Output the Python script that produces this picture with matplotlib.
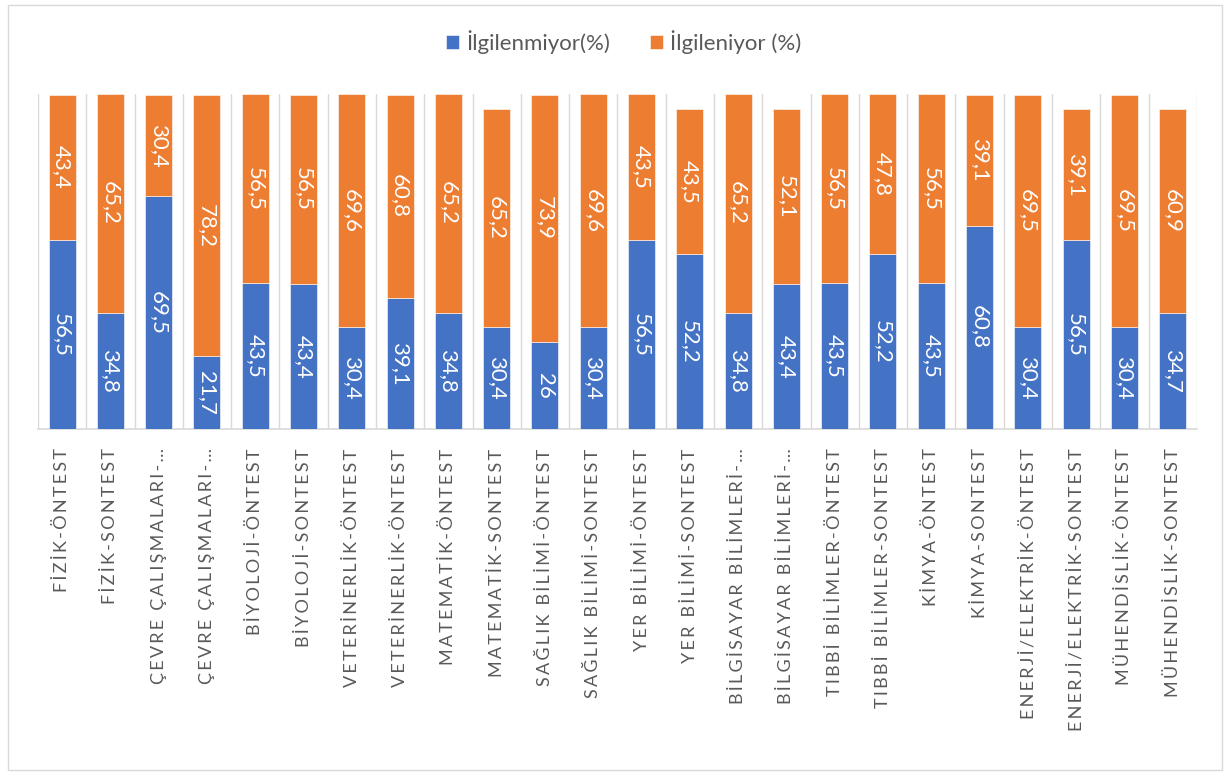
import matplotlib
matplotlib.use("Agg")
import matplotlib.pyplot as plt
from matplotlib.patches import Rectangle
import numpy as np

plt.rcParams['font.family'] = ['Lato', 'DejaVu Sans']

categories = [
    "FİZİK-ÖNTEST", "FİZİK-SONTEST",
    "ÇEVRE ÇALIŞMALARI-…", "ÇEVRE ÇALIŞMALARI-…",
    "BİYOLOJİ-ÖNTEST", "BİYOLOJİ-SONTEST",
    "VETERİNERLİK-ÖNTEST", "VETERİNERLİK-ÖNTEST",
    "MATEMATİK-ÖNTEST", "MATEMATİK-SONTEST",
    "SAĞLIK BİLİMİ-ÖNTEST", "SAĞLIK BİLİMİ-SONTEST",
    "YER BİLİMİ-ÖNTEST", "YER BİLİMİ-SONTEST",
    "BİLGİSAYAR BİLİMLERİ-…", "BİLGİSAYAR BİLİMLERİ-…",
    "TIBBİ BİLİMLER-ÖNTEST", "TIBBİ BİLİMLER-SONTEST",
    "KİMYA-ÖNTEST", "KİMYA-SONTEST",
    "ENERJİ/ELEKTRİK-ÖNTEST", "ENERJİ/ELEKTRİK-SONTEST",
    "MÜHENDİSLİK-ÖNTEST", "MÜHENDİSLİK-SONTEST",
]
ilgilenmiyor = [56.5, 34.8, 69.5, 21.7, 43.5, 43.4, 30.4, 39.1, 34.8, 30.4, 26, 30.4,
                56.5, 52.2, 34.8, 43.4, 43.5, 52.2, 43.5, 60.8, 30.4, 56.5, 30.4, 34.7]
ilgileniyor = [43.4, 65.2, 30.4, 78.2, 56.5, 56.5, 69.6, 60.8, 65.2, 65.2, 73.9, 69.6,
               43.5, 43.5, 65.2, 52.1, 56.5, 47.8, 56.5, 39.1, 69.5, 39.1, 69.5, 60.9]
series_names = ["İlgilenmiyor(%)", "İlgileniyor (%)"]

BLUE = "#4472C4"
ORANGE = "#ED7D31"
GRID = "#D9D9D9"
TEXT = "#595959"


def fmt(v):
    return f"{v:g}".replace(".", ",")


def spaced(s):
    # widen letter spacing with thin spaces
    return "\u2009".join(s)


fig = plt.figure(figsize=(12.25, 7.73), dpi=100)
ax = fig.add_axes([0.031, 0.445, 0.946, 0.433])

x = np.arange(len(categories))
b1 = ax.bar(x, ilgilenmiyor, width=0.56, color=BLUE, edgecolor="white",
            linewidth=0.4, label=series_names[0], zorder=3)
b2 = ax.bar(x, ilgileniyor, width=0.56, bottom=ilgilenmiyor, color=ORANGE,
            edgecolor="white", linewidth=0.4, label=series_names[1], zorder=3)

ax.bar_label(b1, labels=[fmt(v) for v in ilgilenmiyor], label_type="center",
             rotation=270, color="white", fontsize=16)
ax.bar_label(b2, labels=[fmt(v) for v in ilgileniyor], label_type="center",
             rotation=270, color="white", fontsize=16)

ax.set_xlim(-0.5, len(categories) - 0.5)
ax.set_ylim(0, 100)

for b in np.arange(-0.5, len(categories), 1.0):
    ax.axvline(b, color=GRID, linewidth=1.0, zorder=1)

for s in ["top", "right", "left"]:
    ax.spines[s].set_visible(False)
ax.spines["bottom"].set_color(GRID)
ax.spines["bottom"].set_linewidth(1.2)
ax.set_yticks([])
ax.set_xticks(x)
ax.set_xticklabels([spaced(c) for c in categories], rotation=90, ha="center",
                   va="top", fontsize=13, color=TEXT)
ax.tick_params(axis="x", length=0, pad=14)

fig.legend(handles=[b1, b2], labels=series_names, loc="center",
           bbox_to_anchor=(0.509, 1 - 42 / 773), ncol=2, frameon=False,
           fontsize=16, handlelength=0.6, handleheight=0.6,
           handletextpad=0.3, columnspacing=1.8, labelcolor=TEXT)

fig.patches.append(Rectangle((8 / 1225, 3 / 773), 1214 / 1225, 765 / 773,
                             transform=fig.transFigure, fill=False,
                             edgecolor=GRID, linewidth=1.0))

fig.savefig("out.png", dpi=100)
